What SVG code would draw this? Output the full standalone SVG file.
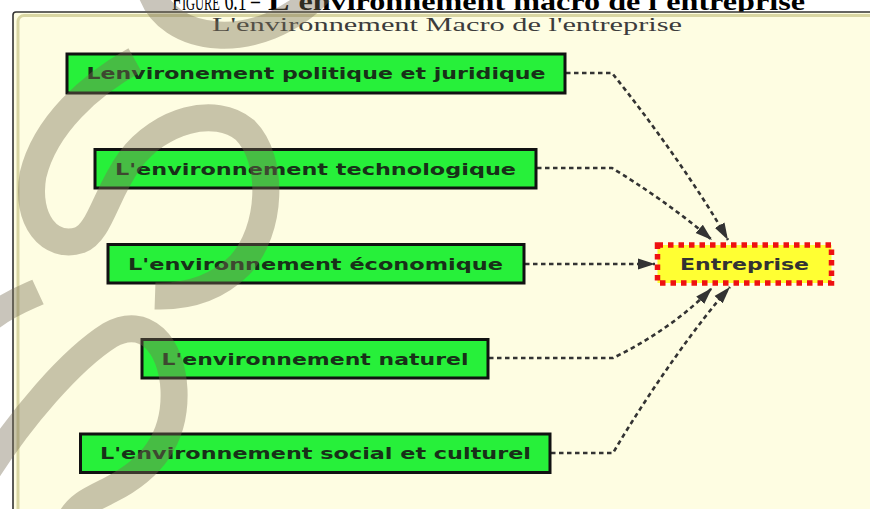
<svg xmlns="http://www.w3.org/2000/svg" width="870" height="509" viewBox="0 0 870 509">
<defs>
<style>
.env rect{fill:#27f03a;stroke:#111;stroke-width:3}
.env text{font-family:"DejaVu Sans","Verdana",sans-serif;font-weight:bold;font-size:15px;fill:#183018;text-anchor:middle}
.conn path{fill:none;stroke:#333;stroke-width:2.6;stroke-dasharray:4.5 3.5;marker-end:url(#arr)}
.wm path{fill:none;stroke:#786f55;stroke-opacity:0.4;stroke-width:27;stroke-linecap:butt}
</style>
<marker id="arr" markerUnits="userSpaceOnUse" markerWidth="18" markerHeight="12" refX="17" refY="6" orient="auto" viewBox="0 0 18 12">
<path d="M0,0.5 L17,6 L0,11.5 Z" fill="#333"/>
</marker>
</defs>
<rect width="870" height="509" fill="#ffffff"/>
<g id="caption" font-family="'Liberation Serif','Times New Roman',serif" fill="#000">
<text x="172" y="10" font-size="30" font-variant="small-caps" textLength="88" lengthAdjust="spacingAndGlyphs">Figure 6.1 –</text>
<text x="268" y="10" font-size="26" font-weight="bold" textLength="537" lengthAdjust="spacingAndGlyphs">L'environnement macro de l'entreprise</text>
</g>
<g id="frame">
<rect x="13" y="12" width="900" height="600" rx="3" fill="#fefde2" stroke="#333" stroke-width="1.6"/>
<rect x="18" y="15.5" width="900" height="600" rx="6" fill="none" stroke="#d9d6a2" stroke-width="3"/>
<text x="212" y="31" font-family="'Liberation Serif','Times New Roman',serif" font-size="19" fill="#3c3c3c" textLength="470" lengthAdjust="spacingAndGlyphs">L'environnement Macro de l'entreprise</text>
</g>
<g id="connectors" class="conn">
<path d="M566,73 H612 C650,120 700,190 728,240"/>
<path d="M537,168 H612 C640,185 680,212 712,240"/>
<path d="M525,264 H655"/>
<path d="M489,358 H613 C650,340 685,316 712,288"/>
<path d="M551,453 H613 C650,390 700,320 730,287"/>
</g>
<g id="node-politique" class="env">
<rect x="67" y="54" width="498" height="39"/>
<text x="316" y="79" textLength="459" lengthAdjust="spacingAndGlyphs">Lenvironement politique et juridique</text>
</g>
<g id="node-technologique" class="env">
<rect x="95" y="149.5" width="441" height="38.5"/>
<text x="315.5" y="174.5" textLength="401" lengthAdjust="spacingAndGlyphs">L'environnement technologique</text>
</g>
<g id="node-economique" class="env">
<rect x="108" y="244.5" width="416" height="38.5"/>
<text x="315.5" y="269.5" textLength="375" lengthAdjust="spacingAndGlyphs">L'environnement économique</text>
</g>
<g id="node-naturel" class="env">
<rect x="142" y="339.5" width="346" height="38.5"/>
<text x="315" y="364.5" textLength="307" lengthAdjust="spacingAndGlyphs">L'environnement naturel</text>
</g>
<g id="node-social" class="env">
<rect x="80.5" y="434" width="469.5" height="38.5"/>
<text x="315.5" y="459" textLength="431" lengthAdjust="spacingAndGlyphs">L'environnement social et culturel</text>
</g>
<g id="node-entreprise">
<rect x="657.5" y="245" width="174" height="38" fill="#ffff33" stroke="#ee1111" stroke-width="5.5" stroke-dasharray="5.5 5"/>
<text x="744.5" y="269.5" font-family="'DejaVu Sans','Verdana',sans-serif" font-weight="bold" font-size="16" fill="#333" text-anchor="middle" textLength="129" lengthAdjust="spacingAndGlyphs">Entreprise</text>
</g>
<g id="watermark" class="wm">
<path d="M150,-12 C165,45 260,55 320,-8"/>
<path d="M135,60 C90,85 45,125 33,175 C25,220 50,250 80,240 C100,232 105,195 130,160 C160,120 215,105 245,130 C275,160 272,230 240,265 C215,290 185,297 155,296"/>
<path d="M-10,318 C10,303 25,298 38,292"/>
<path d="M-12,470 C20,420 70,360 110,335 C145,315 172,345 174,390 C176,440 150,470 110,490 C90,500 78,505 70,520"/>
</g>
</svg>
